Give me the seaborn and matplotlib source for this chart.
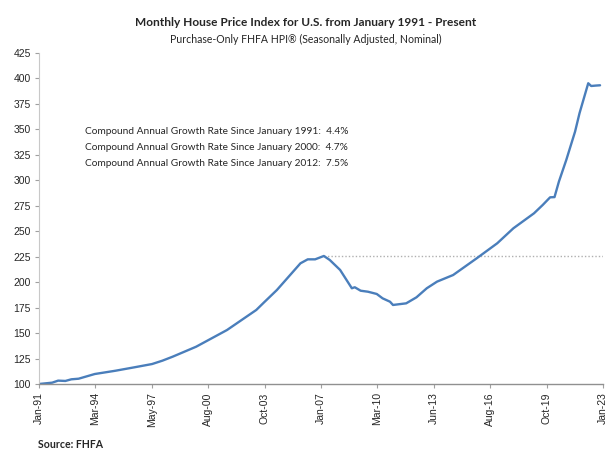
import matplotlib
matplotlib.use("Agg")
import matplotlib.pyplot as plt
import matplotlib.dates as mdates
import seaborn as sns
import pandas as pd
import numpy as np

# ---- data ----
dates = ["1991-01", "1991-10", "1992-02", "1992-07", "1992-11", "1993-04", "1994-03",
         "1995-05", "1996-06", "1997-06", "1998-01", "1998-08", "1999-12", "2001-09",
         "2003-05", "2003-10", "2004-07", "2005-04", "2005-11", "2006-04", "2006-09",
         "2007-03", "2007-07", "2008-02", "2008-10", "2008-12", "2009-04", "2009-09",
         "2010-03", "2010-07", "2010-12", "2011-02", "2011-11", "2012-06", "2013-01",
         "2013-08", "2014-07", "2015-11", "2017-01", "2017-12", "2019-02", "2019-08",
         "2020-01", "2020-04", "2020-07", "2020-12", "2021-06", "2021-09", "2022-03",
         "2022-05", "2022-08", "2022-11"]
hpi = [100.0, 101.3, 103.3, 103.0, 104.6, 105.2, 109.8,
       113.0, 116.4, 119.6, 122.9, 126.8, 136.6, 153.0,
       172.7, 179.8, 192.3, 207.0, 218.5, 222.4, 222.4,
       225.7, 221.8, 212.0, 194.0, 195.0, 191.6, 190.6,
       188.4, 184.1, 180.8, 177.6, 179.2, 185.1, 194.0,
       200.5, 207.0, 223.4, 238.2, 252.9, 267.6, 275.8,
       283.3, 283.5, 298.7, 320.0, 347.8, 365.8, 395.3,
       392.6, 393.0, 393.3]
peak_value = 225.7
peak_date = "2007-03"

x_tick_labels = ["Jan-91", "Mar-94", "May-97", "Aug-00", "Oct-03", "Jan-07",
                 "Mar-10", "Jun-13", "Aug-16", "Oct-19", "Jan-23"]
y_ticks = [100, 125, 150, 175, 200, 225, 250, 275, 300, 325, 350, 375, 400, 425]

cagr_lines = ["Compound Annual Growth Rate Since January 1991:  4.4%",
              "Compound Annual Growth Rate Since January 2000:  4.7%",
              "Compound Annual Growth Rate Since January 2012:  7.5%"]

title = "Monthly House Price Index for U.S. from January 1991 - Present"
subtitle = "Purchase-Only FHFA HPI\u00ae (Seasonally Adjusted, Nominal)"
source = "Source: FHFA"

# ---- plot ----
sns.set_style("white")
plt.rcParams["font.family"] = ["Liberation Sans", "DejaVu Sans"]

df = pd.DataFrame({"date": pd.to_datetime(dates), "hpi": hpi})

fig = plt.figure(figsize=(6.1, 4.59), dpi=100)
ax = fig.add_axes([39 / 610, 1 - 384 / 459, (603 - 39) / 610, (384 - 53) / 459])

blue = "#4A7EBB"
sns.lineplot(data=df, x="date", y="hpi", ax=ax, color=blue, linewidth=1.7)

x0 = mdates.date2num(pd.Timestamp("1991-01-01"))
x1 = mdates.date2num(pd.Timestamp("2023-01-01"))
ax.set_xlim(x0, x1)
ax.set_ylim(100, 425)

# dotted reference line at previous peak
ax.plot([mdates.date2num(pd.Timestamp(peak_date)), x1], [peak_value, peak_value],
        linestyle=(0, (1, 1.5)), color="#B0B0B0", linewidth=1.0, zorder=1)

ax.set_xticks(np.linspace(x0, x1, len(x_tick_labels)))
ax.set_xticklabels(x_tick_labels, rotation=90, fontsize=7.5)
ax.set_yticks(y_ticks)
ax.set_yticklabels([str(v) for v in y_ticks], fontsize=7.5)
ax.tick_params(axis="both", direction="out", length=3, width=0.8, color="#A0A0A0",
               pad=3, left=True, bottom=True)
ax.set_xlabel("")
ax.set_ylabel("")

for s in ["top", "right"]:
    ax.spines[s].set_visible(False)
ax.spines["left"].set_color("#C8C8C8")
ax.spines["bottom"].set_color("#909090")
ax.spines["left"].set_linewidth(0.8)
ax.spines["bottom"].set_linewidth(1.0)

# CAGR annotations
for i, t in enumerate(cagr_lines):
    fig.text(85 / 610, 1 - (131 + 16 * i) / 459, t, fontsize=7.3,
             family=["Lato", "DejaVu Sans"], va="center", ha="left")

fig.text(306 / 610, 1 - 22 / 459, title, fontsize=8.6, fontweight="bold",
         family=["Lato", "DejaVu Sans"], ha="center", va="center")
fig.text(306 / 610, 1 - 39 / 459, subtitle, fontsize=7.6,
         family=["Lato", "DejaVu Sans"], ha="center", va="center")
fig.text(38 / 610, 1 - 444 / 459, source, fontsize=7.6, fontweight="bold",
         family=["Lato", "DejaVu Sans"], ha="left", va="center")

fig.savefig("out.png", dpi=100)
